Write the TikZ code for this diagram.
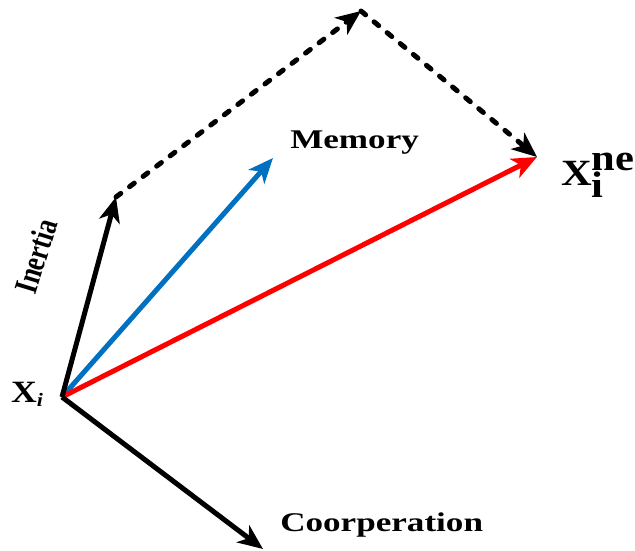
\documentclass[tikz,border=0pt]{standalone}
\usepackage{fontspec}
\setmainfont{Liberation Serif}
\usetikzlibrary{arrows.meta}
\definecolor{memblue}{RGB}{0,112,192}
\tikzset{
  vec/.style={line width=5pt,-{Stealth[length=25pt,width=21pt,inset=7pt]}},
  dvec/.style={line width=5pt,line cap=round,dash pattern=on 6pt off 11pt,-{Stealth[length=25pt,width=21pt,inset=7pt]}},
  lbl/.style={inner sep=0pt,font=\fontsize{27}{30}\selectfont\bfseries,xscale=1.3},
}
\begin{document}
\begin{tikzpicture}[x=1pt,y=-1pt]
\useasboundingbox (0,0) rectangle (635,551);
\coordinate (o) at (62,397);
\coordinate (in) at (116,197);
\coordinate (top) at (361,11);
\coordinate (nw) at (537,157);
\coordinate (mem) at (273,158);
\coordinate (co) at (263,549);
\draw[dvec] (in) -- (top);
\draw[dvec] (top) -- (nw);
\draw[vec,memblue] (o) -- (mem);
\draw[vec,red] (o) -- (nw);
\draw[vec,black] (o) -- (co);
\draw[vec,black] (o) -- (in);
\node[lbl,anchor=base west] (lmem) at (290,148) {Memory};
\node[lbl,anchor=base west] (lco) at (280,531) {Coorperation};
\node[inner sep=0pt,font=\fontsize{33}{36}\selectfont\bfseries,rotate=73,anchor=center] (lin) at (36,256) {\scalebox{0.78}[1]{Inertia}};
\node[inner sep=0pt,font=\fontsize{31}{34}\selectfont,xscale=1.15,anchor=base west] (lxi) at (11,402) {$\textbf{X}_{\mbox{\fontsize{19}{19}\selectfont\bfseries\itshape i}}$};
\node[inner sep=0pt,font=\fontsize{37}{40}\selectfont,xscale=1.15,anchor=base west] (lxn) at (561,185) {$\textbf{X}_{\textbf{i}}^{\textbf{ne}}$};
\end{tikzpicture}
\end{document}
